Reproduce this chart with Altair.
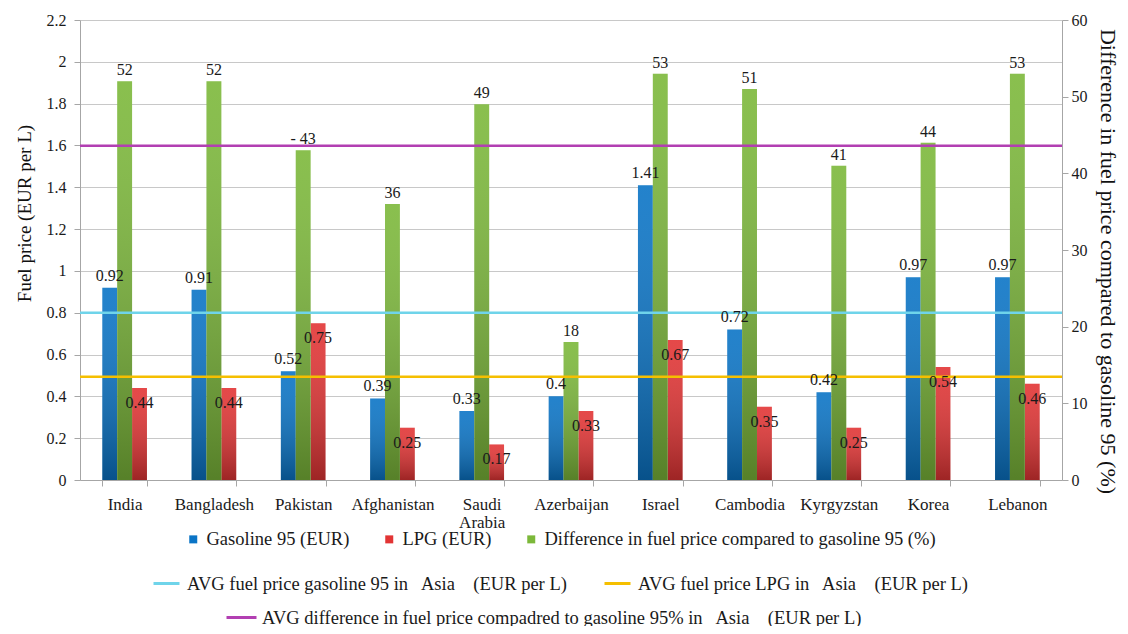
import altair as alt
import pandas as pd

countries = ["India", "Bangladesh", "Pakistan", "Afghanistan", "Saudi Arabia", "Azerbaijan",
             "Israel", "Cambodia", "Kyrgyzstan", "Korea", "Lebanon"]
gasoline = [0.92, 0.91, 0.52, 0.39, 0.33, 0.4, 1.41, 0.72, 0.42, 0.97, 0.97]
lpg = [0.44, 0.44, 0.75, 0.25, 0.17, 0.33, 0.67, 0.35, 0.25, 0.54, 0.46]
diff = [52, 52, 43, 36, 49, 18, 53, 51, 41, 44, 53]
diff_labels = ["52", "52", "- 43", "36", "49", "18", "53", "51", "41", "44", "53"]

S_GAS = "Gasoline 95 (EUR)"
S_LPG = "LPG (EUR)"
S_DIF = "Difference in fuel price compared to gasoline 95 (%)"
NB = "\u00a0"
L_GAS = f"AVG fuel price gasoline 95 in{NB}{NB} Asia{NB}{NB}{NB} (EUR per L)"
L_LPG = f"AVG fuel price LPG in{NB}{NB} Asia{NB}{NB}{NB} (EUR per L)"
L_DIF = f"AVG difference in fuel price compadred to gasoline 95% in{NB}{NB} Asia{NB}{NB}{NB} (EUR per L)"
avg_left_names = [L_GAS, L_LPG]
avg_left_values = [0.8, 0.494]
avg_right_names = [L_DIF]
avg_right_values = [43.6]

left_ticks = [0, 0.2, 0.4, 0.6, 0.8, 1.0, 1.2, 1.4, 1.6, 1.8, 2.0, 2.2]
right_ticks = [0, 10, 20, 30, 40, 50, 60]

FONT = "Liberation Serif"
C_BLUE, C_RED, C_GREEN = "#0a74c6", "#e23434", "#7cb83a"
LEG_FS = 18.5

df_gas = pd.DataFrame({"country": countries, "series": S_GAS, "value": gasoline,
                       "label": [f"{v:g}" for v in gasoline]})
df_lpg = pd.DataFrame({"country": countries, "series": S_LPG, "value": lpg,
                       "label": [f"{v:g}" for v in lpg]})
df_left = pd.concat([df_gas, df_lpg], ignore_index=True)
df_right = pd.DataFrame({"country": countries, "series": S_DIF, "value": diff, "label": diff_labels})
df_lines_left = pd.DataFrame({"name": avg_left_names, "value": avg_left_values})
df_lines_right = pd.DataFrame({"name": avg_right_names, "value": avg_right_values})

x_enc = alt.X("country:N", sort=countries,
              scale=alt.Scale(paddingInner=0.5, paddingOuter=0.25),
              axis=alt.Axis(title=None, labelAngle=0, labelExpr="split(datum.label, ' ')",
                            tickBand="extent", tickSize=6, labelPadding=10, labelFontSize=17,
                            labelFont=FONT, labelLineHeight=18, domainColor="#a6a6a6",
                            tickColor="#a6a6a6", labelColor="#1a1a1a"))
xo_enc = alt.XOffset("series:N", scale=alt.Scale(domain=[S_GAS, S_DIF, S_LPG],
                                                  paddingInner=0, paddingOuter=0))
fill_enc = alt.Fill("series:N",
                    scale=alt.Scale(domain=[S_GAS, S_LPG, S_DIF], range=[C_BLUE, C_RED, C_GREEN]),
                    legend=alt.Legend(title=None, orient="none", legendX=104, legendY=510,
                                      direction="horizontal", columns=3, symbolType="square",
                                      symbolSize=64, symbolStrokeWidth=0, labelFontSize=LEG_FS,
                                      labelFont=FONT, columnPadding=30, labelOffset=4))

yL = alt.Y("value:Q", scale=alt.Scale(domain=[0, 2.2], nice=False),
           axis=alt.Axis(title="Fuel price (EUR per L)", values=left_ticks, format="~g",
                         grid=True, gridColor="#c8c8c8", tickSize=6, labelPadding=8,
                         labelFontSize=16, labelFont=FONT, titleFont=FONT, titleFontSize=19,
                         titlePadding=12, titleY=193, domainColor="#a6a6a6",
                         tickColor="#a6a6a6"))
yR = alt.Y("value:Q", scale=alt.Scale(domain=[0, 60], nice=False),
           axis=alt.Axis(title=S_DIF, orient="right", values=right_ticks, grid=False,
                         tickSize=6, labelPadding=3, labelFontSize=16, labelFont=FONT,
                         titleFont=FONT, titleFontSize=22, titlePadding=8, titleY=241,
                         domainColor="#a6a6a6", tickColor="#a6a6a6"))
yL_plain = alt.Y("value:Q", scale=alt.Scale(domain=[0, 2.2], nice=False), axis=None)
yR_plain = alt.Y("value:Q", scale=alt.Scale(domain=[0, 60], nice=False), axis=None)

shade = alt.Gradient(gradient="linear", x1=0, x2=0, y1=0, y2=1,
                     stops=[alt.GradientStop(color="rgba(255,255,255,0.10)", offset=0),
                            alt.GradientStop(color="rgba(0,0,0,0.30)", offset=1)])

# left-axis bars (gasoline, LPG)
base_left = alt.Chart(df_left).encode(x=x_enc, xOffset=xo_enc, y=yL)
left_bars = alt.layer(base_left.mark_bar().encode(fill=fill_enc), base_left.mark_bar(color=shade))

# right-axis bars (difference)
base_right = alt.Chart(df_right).encode(x=x_enc, xOffset=xo_enc, y=yR)
right_bars = alt.layer(base_right.mark_bar().encode(fill=fill_enc), base_right.mark_bar(color=shade))

# left-axis overlays: average lines + labels
rules_left = alt.Chart(df_lines_left).mark_rule(strokeWidth=2.5).encode(
    y=yL_plain,
    stroke=alt.Stroke("name:N",
                      scale=alt.Scale(domain=avg_left_names, range=["#6fd4ea", "#f5bf00"]),
                      legend=alt.Legend(title=None, orient="none", legendX=72, legendY=549,
                                        direction="horizontal", columns=2, symbolType="stroke",
                                        symbolSize=676, symbolStrokeWidth=3,
                                        labelFontSize=LEG_FS, labelFont=FONT,
                                        columnPadding=30, labelOffset=6)))
text_gas = alt.Chart(df_gas).mark_text(dy=-12, fontSize=16, font=FONT, color="#1a1a1a").encode(
    x=x_enc, xOffset=xo_enc, y=yL_plain, text="label:N")
text_lpg = alt.Chart(df_lpg).mark_text(dy=15, fontSize=16, font=FONT, color="#1a1a1a").encode(
    x=x_enc, xOffset=xo_enc, y=yL_plain, text="label:N")
left_over = alt.layer(rules_left, text_gas, text_lpg)

# right-axis overlays
rule_right = alt.Chart(df_lines_right).mark_rule(strokeWidth=2.5).encode(
    y=yR_plain,
    color=alt.Color("name:N", scale=alt.Scale(domain=avg_right_names, range=["#b23fb2"]),
                    legend=alt.Legend(title=None, orient="none", legendX=145, legendY=581,
                                      symbolType="stroke", symbolSize=900,
                                      symbolStrokeWidth=3, labelFontSize=LEG_FS,
                                      labelFont=FONT, labelOffset=4)))
text_dif = alt.Chart(df_right).mark_text(dy=-11, fontSize=16, font=FONT, color="#1a1a1a").encode(
    x=x_enc, xOffset=xo_enc, y=yR_plain, text="label:N")
right_over = alt.layer(rule_right, text_dif)

chart = alt.layer(left_bars, right_bars, left_over, right_over).resolve_scale(
    y="independent"
).properties(
    width=982, height=460,
    autosize=alt.AutoSizeParams(type="none"),
    padding={"left": 72, "top": 12, "right": 58, "bottom": 146},
).configure(font=FONT).configure_axis(
    labelFont=FONT, titleFont=FONT, titleFontWeight="normal", labelColor="#1a1a1a",
    titleColor="#111111"
).configure_legend(
    labelFont=FONT, labelColor="#1a1a1a", labelLimit=0
).configure_text(font=FONT).configure_view(stroke=None)

chart.save("out.html", embed_options={"renderer": "svg", "actions": False})
